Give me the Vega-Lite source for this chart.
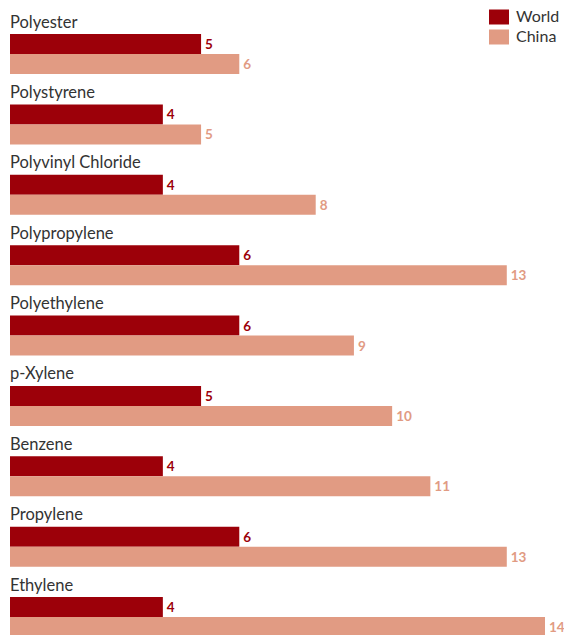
{
  "$schema": "https://vega.github.io/schema/vega-lite/v6.json",
  "autosize": {"type": "none"},
  "padding": {"left": 10, "top": 3, "right": 19, "bottom": 0},
  "width": 535,
  "height": 633.375,
  "background": "white",
  "config": {"view": {"stroke": null}, "font": "Lato"},
  "data": {
    "values": [
      {"product": "Polyester", "series": "World", "value": 5},
      {"product": "Polyester", "series": "China", "value": 6},
      {"product": "Polystyrene", "series": "World", "value": 4},
      {"product": "Polystyrene", "series": "China", "value": 5},
      {"product": "Polyvinyl Chloride", "series": "World", "value": 4},
      {"product": "Polyvinyl Chloride", "series": "China", "value": 8},
      {"product": "Polypropylene", "series": "World", "value": 6},
      {"product": "Polypropylene", "series": "China", "value": 13},
      {"product": "Polyethylene", "series": "World", "value": 6},
      {"product": "Polyethylene", "series": "China", "value": 9},
      {"product": "p-Xylene", "series": "World", "value": 5},
      {"product": "p-Xylene", "series": "China", "value": 10},
      {"product": "Benzene", "series": "World", "value": 4},
      {"product": "Benzene", "series": "China", "value": 11},
      {"product": "Propylene", "series": "World", "value": 6},
      {"product": "Propylene", "series": "China", "value": 13},
      {"product": "Ethylene", "series": "World", "value": 4},
      {"product": "Ethylene", "series": "China", "value": 14}
    ]
  },
  "encoding": {
    "y": {
      "field": "product", "type": "nominal",
      "sort": ["Polyester", "Polystyrene", "Polyvinyl Chloride", "Polypropylene", "Polyethylene", "p-Xylene", "Benzene", "Propylene", "Ethylene"],
      "scale": {"paddingInner": 0, "paddingOuter": 0},
      "axis": null
    }
  },
  "layer": [
    {
      "mark": {"type": "bar"},
      "encoding": {
        "x": {"field": "value", "type": "quantitative", "scale": {"domain": [0, 14], "nice": false}, "axis": null},
        "yOffset": {"field": "series", "type": "nominal", "scale": {"domain": ["World", "China"], "range": [31, 71], "paddingInner": 0, "paddingOuter": 0}},
        "color": {
          "field": "series", "type": "nominal",
          "scale": {"domain": ["World", "China"], "range": ["#9c0009", "#e19b83"]},
          "legend": {
            "title": null, "orient": "none", "legendX": 479, "legendY": 4,
            "symbolType": "M-1,-0.75H1V0.75H-1Z", "symbolSize": 400,
            "symbolStrokeWidth": 0, "symbolOpacity": 1,
            "labelFontSize": 16, "labelColor": "#333333", "labelFont": "Lato",
            "labelOffset": 7, "rowPadding": 2, "padding": 0
          }
        }
      }
    },
    {
      "mark": {"type": "text", "align": "left", "baseline": "middle", "dx": 4, "dy": 1, "fontSize": 13.5, "fontWeight": "bold"},
      "encoding": {
        "x": {"field": "value", "type": "quantitative"},
        "yOffset": {"field": "series", "type": "nominal"},
        "text": {"field": "value", "type": "quantitative"},
        "color": {"field": "series", "type": "nominal"}
      }
    },
    {
      "transform": [{"filter": "datum.series === 'World'"}],
      "mark": {"type": "text", "align": "left", "baseline": "alphabetic", "dy": 24.5, "fontSize": 16.5, "color": "#333333"},
      "encoding": {
        "x": {"datum": 0},
        "y": {"field": "product", "type": "nominal", "bandPosition": 0},
        "text": {"field": "product", "type": "nominal"}
      }
    }
  ]
}
